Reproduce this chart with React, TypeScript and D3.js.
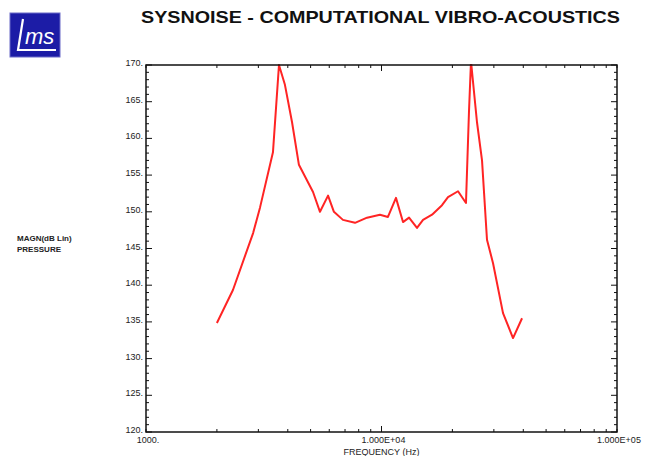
import React from "react";
import * as d3 from "d3";

const title = "SYSNOISE - COMPUTATIONAL VIBRO-ACOUSTICS";
const xLabel = "FREQUENCY (Hz)";
const yLabelLines = ["MAGN(dB Lin)", "PRESSURE"];

const freqs = [2000, 2340, 2850, 3050, 3460, 3670, 3890, 4170, 4460, 5120, 5480, 5930, 6280, 6860, 7720, 8680, 9850, 10650, 11520, 12340, 13090, 14150, 15010, 16390, 18070, 19160, 21130, 22840, 23520, 23990, 25440, 26720, 28050, 29760, 32810, 36180, 39520];
const magn = [134.85, 139.35, 147.1, 150.6, 158.1, 170.0, 167.3, 162.2, 156.4, 152.7, 150.0, 152.2, 150.0, 148.9, 148.5, 149.2, 149.6, 149.3, 151.9, 148.6, 149.2, 147.8, 148.9, 149.6, 150.9, 152.0, 152.8, 151.2, 163.6, 170.5, 162.2, 157.0, 146.2, 143.0, 136.2, 132.8, 135.5];

const yTicks = [120, 125, 130, 135, 140, 145, 150, 155, 160, 165, 170];
const xTickLabels: [number, string][] = [[1000, "1000."], [10000, "1.000E+04"], [100000, "1.000E+05"]];

const W = 645, H = 456;
const L = 146, R = 617, T = 65, B = 432;

export default function App() {
  const x = d3.scaleLog().domain([1000, 100000]).range([L, R]);
  const y = d3.scaleLinear().domain([120, 170]).range([B, T]);
  const line = d3.line<number>().x((_, i) => x(freqs[i])).y((d) => y(d));
  const minorY = d3.range(120, 171, 1);
  const minorX: number[] = [];
  for (const dec of [1000, 10000]) for (let k = 1; k <= 10; k++) minorX.push(dec * k);
  const font = "'Liberation Sans', Arial, Helvetica, sans-serif";
  return (
    <svg width={W} height={H} style={{ position: "absolute", left: 0, top: 0, background: "#fff" }} fontFamily={font}>
      <defs>
        <clipPath id="plot"><rect x={L} y={T - 1} width={R - L} height={B - T + 1} /></clipPath>
      </defs>
      {/* logo */}
      <rect x={10} y={13} width={50} height={44} fill="#1c1ca6" stroke="#6a6ac8" strokeWidth={1} />
      <path d="M23,19 L18,50 L56,50" fill="none" stroke="#fff" strokeWidth={2.2} />
      <text x={25} y={44} fill="#fff" fontSize={22} fontStyle="italic" fontFamily="'Liberation Sans', Arial, sans-serif">ms</text>
      {/* title */}
      <text x={141} y={23} fontSize={17} fontWeight="bold" fill="#111" textLength={479} lengthAdjust="spacingAndGlyphs">{title}</text>
      {/* y label */}
      {yLabelLines.map((t, i) => (
        <text key={t} x={17} y={241 + i * 11} fontSize={8} fontWeight="bold" fill="#222">{t}</text>
      ))}
      {/* curve */}
      <path d={line(magn) || ""} fill="none" stroke="#ff2424" strokeWidth={2} strokeLinejoin="round" clipPath="url(#plot)" />
      {/* frame */}
      <rect x={L} y={T} width={R - L} height={B - T} fill="none" stroke="#111" strokeWidth={1.5} />
      {/* y ticks */}
      {minorY.map((v) => {
        const len = v % 5 === 0 ? 6 : 3;
        return (
          <g key={"y" + v} stroke="#111" strokeWidth={1}>
            <line x1={L} x2={L + len} y1={y(v)} y2={y(v)} />
            <line x1={R} x2={R - len} y1={y(v)} y2={y(v)} />
          </g>
        );
      })}
      {yTicks.map((v) => (
        <text key={"yl" + v} x={L - 3} y={y(v) + 1} fontSize={9} textAnchor="end" fill="#222">{v + "."}</text>
      ))}
      {/* x ticks */}
      {minorX.map((v) => {
        const len = v === 10000 ? 6 : 3;
        return (
          <g key={"x" + v} stroke="#111" strokeWidth={1}>
            <line x1={x(v)} x2={x(v)} y1={B} y2={B - len} />
            <line x1={x(v)} x2={x(v)} y1={T} y2={T + len} />
          </g>
        );
      })}
      {xTickLabels.map(([v, s]) => (
        <text key={"xl" + v} x={x(v) + 2} y={B + 11} fontSize={9} textAnchor="middle" fill="#222">{s}</text>
      ))}
      <text x={x(10000)} y={455} fontSize={9} textAnchor="middle" fill="#222">{xLabel}</text>
    </svg>
  );
}
